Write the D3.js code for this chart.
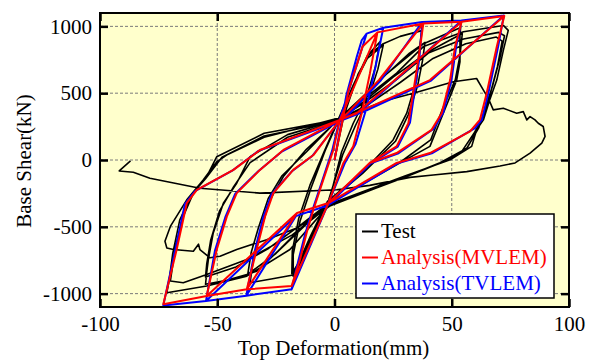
<!DOCTYPE html>
<html>
<head>
<meta charset="utf-8">
<script src="https://cdn.jsdelivr.net/npm/d3@7"></script>
<style>
  body { margin: 0; background: #fff; }
  svg { display: block; }
  text { font-family: "Liberation Serif", "Times New Roman", serif; }
</style>
</head>
<body>
<svg id="chart" width="598" height="363"></svg>
<script>
// axis ticks
const xTicks = [-100, -50, 0, 50, 100];
const yTicks = [-1000, -500, 0, 500, 1000];

// Test: [top deformation (mm), base shear (kN)]
const testData = [
  [0,0],[4,330],[10,640],[15,800],[19.4,885],
  [17.5,700],[13.7,474],[8,275],[3,60],[-2,-290],
  [-8,-520],[-13,-720],[-17.6,-870],
  [-17.6,-707],[-14.7,-459],[-10,-210],[-4,70],[1,270],
  [7,520],[14,760],[20.8,860],
  [18.5,680],[14.5,460],[9,260],[3.5,40],[-2.5,-300],
  [-9,-540],[-14,-730],[-18.2,-850],
  [-18,-680],[-15.3,-440],[-10.5,-190],[-4.5,60],[1,280],
  [8,560],[14,780],[20.8,870],[28,925],[37.2,968],
  [36,800],[35,598],[30.8,350],[25,150],[12,-90],[-3,-310],
  [-10,-560],[-17.6,-860],[-27,-890],[-36,-918],
  [-34.6,-745],[-31.8,-546],[-27.5,-298],[-21.8,-124],[-12,80],[1,290],
  [10,430],[22,640],[32,800],[38.6,880],
  [37.5,740],[35.5,560],[31.5,340],[26,140],[12,-100],[-3,-320],
  [-12,-470],[-24,-680],[-33,-830],[-37,-855],
  [-35.5,-690],[-32.5,-510],[-28.3,-290],[-22.5,-120],[-12,60],[1,295],
  [10,440],[22,640],[38,870],[53.8,992],
  [53.5,940],[53.5,734],[52.1,598],[46.4,350],[40.7,102],[26,-40],[-3,-330],
  [-12,-480],[-25,-700],[-37,-855],[-46,-900],[-55,-930],
  [-54.5,-844],[-53.8,-745],[-51.7,-546],[-47.4,-323],[-41.7,-174],[-36,25],[-20,190],[1,300],
  [12,430],[25,620],[40,810],[54.5,946],
  [53.5,780],[51.5,600],[46,380],[41,150],[27,-30],[-3,-330],
  [-14,-480],[-28,-660],[-42,-800],[-55,-875],
  [-54.5,-780],[-52.8,-600],[-49,-380],[-43,-200],[-36,-20],[-20,170],[1,290],
  [12,450],[26.5,650],[38,850],[55,960],[72,1007],
  [74.1,970],[72,820],[69.2,598],[66,440],[63.5,300],[60.6,226],[58.5,102],[49.3,2],[30,-120],[-2,-330],
  [-19,-670],[-37.4,-869],[-54.5,-943],[-71.5,-993],
  [-70.5,-900],[-69,-700],[-66,-450],[-61,-260],[-55,-140],[-48,20],[-30,180],[0,290],
  [12,420],[27,610],[40,800],[55,905],[70,955],
  [72.5,930],[70.5,760],[67.5,560],[64.5,400],[61.5,240],[56.5,90],[47,-10],[30,-130],[-2,-340],
  [-18,-560],[-37.4,-745],[-54.5,-856],[-64.5,-918],[-70,-906],
  [-68,-670],[-64.5,-422],[-60.2,-248],[-54.5,-124],[-50.2,25],[-30,200],[1,300],
  [13,400],[28,580],[42,760],[56,870],[69,920],
  [71.5,890],[69.5,700],[66.5,500],[63.5,330],[59.5,200],[54.5,70],[45,-20],[28,-140],[-2,-345],
  [-16.1,-509],[-28.9,-596],[-41.7,-670],[-48.8,-720],[-53.1,-732],[-57.4,-670],[-58,-630],[-60.2,-683],[-68.7,-670],[-71.5,-658],[-72.3,-608],
  [-70,-497],[-63,-298],[-56,-149],[-50.2,-13],[-46,37],[-30,170],[-10,260],[5,330],
  [22.3,447],[33.6,499],[50.7,586],[60.6,610],[63.5,523],[65.6,462],[67.7,375],[72,387],[77.7,350],[80.5,362],[82,300],[83.4,325],[85.5,300],[86.9,275],[89,251],[89.8,176],[88.4,127],[83.4,52],[77,-22],[70.6,-45],[56.4,-87],[42.1,-112],[32.2,-130],[15,-190],[0.9,-223],[-31.8,-248],[-57.4,-211],[-78.7,-136],[-85.8,-92],[-91.8,-82],[-87,-7]
];

// Analysis (MVLEM)
const mvlemData = [
  [0,0],[6,520],[12,850],[18.3,955],
  [15.1,648],[11.6,350],[8,102],[3.8,-22],[-2.6,-322],
  [-18.3,-943],
  [-14.7,-745],[-11.9,-546],[-9,-372],[-4.8,-149],[-0.5,75],[2.3,300],
  [18.3,955],[37.9,1022],
  [35.7,745],[31.5,275],[26.5,102],[15,-22],[-2.6,-322],
  [-18.3,-943],[-37.4,-968],
  [-33.2,-670],[-29.6,-422],[-26.1,-248],[-17.6,-74],[-9,37],[2.3,300],
  [6,360],[19,600],[37.9,1022],
  [35.7,745],[31.5,275],[26.5,102],[15,-22],[-2.6,-322],
  [-16,-397],[-37.4,-968],
  [-33.2,-670],[-29.6,-422],[-26.1,-248],[-17.6,-74],[-9,37],[2.3,300],
  [6,360],[19,600],[37.9,1022],[54.2,1035],
  [51.4,847],[49.3,598],[45.7,350],[41.4,226],[26.5,52],[15,-22],[-2.6,-322],
  [-16,-397],[-37.4,-968],[-54.5,-1018],
  [-50.2,-670],[-45.9,-422],[-41.7,-248],[-31.8,-74],[-21.8,75],[2.3,300],
  [9.5,350],[54.2,1035],
  [51.4,847],[49.3,598],[45.7,350],[41.4,226],[26.5,52],[15,-22],[-2.6,-322],
  [-16,-397],[-54.5,-1018],
  [-50.2,-670],[-45.9,-422],[-41.7,-248],[-31.8,-74],[-21.8,75],[2.3,300],
  [9.5,350],[54.2,1035],[72.4,1078],
  [69.2,847],[64.9,499],[62,300],[57.8,214],[40.7,52],[26.5,-22],[-2.6,-322],
  [-16,-397],[-54.5,-1018],[-73,-1080],
  [-67.3,-670],[-63,-323],[-58.7,-223],[-43.1,-74],[-31.8,75],[2.3,300],
  [12.3,375],[40.7,598],[72.4,1078],
  [69.2,847],[64.9,499],[62,300],[57.8,214],[40.7,52],[26.5,-22],[-2.6,-322]
];

// Analysis (TVLEM)
const tvlemData = [
  [0,0],[5,480],[9.5,772],[11.6,896],[13.7,946],[20.8,990],
  [17.5,700],[13.5,380],[9,120],[4.5,-20],[-3,-340],
  [-18.3,-968],
  [-15.5,-760],[-12.6,-560],[-9.6,-385],[-5.3,-160],[-1,70],[2,290],
  [13.7,946],[20.8,990],[37.4,1033],
  [36.2,760],[32.2,280],[27,100],[15.5,-25],[-3,-340],
  [-18.3,-968],[-37.6,-1015],
  [-34,-680],[-30.4,-430],[-26.8,-255],[-18,-82],[-9.5,30],[2,290],
  [6.5,350],[19.5,590],[37.4,1033],
  [36.2,760],[32.2,280],[27,100],[15.5,-25],[-3,-340],
  [-16.5,-420],[-37.6,-1015],
  [-34,-680],[-30.4,-430],[-26.8,-255],[-18,-82],[-9.5,30],[2,290],
  [6.5,350],[19.5,590],[37.4,1033],[54.2,1043],
  [51.9,850],[49.9,600],[46.4,355],[42.2,232],[27,48],[15.5,-25],[-3,-340],
  [-16.5,-420],[-37.6,-1015],[-54.8,-1055],
  [-51,-680],[-46.6,-430],[-42.4,-255],[-32.4,-82],[-22.3,65],[2,290],
  [10,345],[54.2,1043],
  [51.9,850],[49.9,600],[46.4,355],[42.2,232],[27,48],[15.5,-25],[-3,-340],
  [-16.5,-420],[-54.8,-1055],
  [-51,-680],[-46.6,-430],[-42.4,-255],[-32.4,-82],[-22.3,65],[2,290],
  [10,345],[54.2,1043],[72.2,1082],
  [69.8,850],[65.6,500],[62.8,300],[59.9,238],[41.5,50],[27,-25],[-3,-340],
  [-16.5,-420],[-54.8,-1055],[-73,-1088],
  [-68,-680],[-63.8,-330],[-59.5,-232],[-43.8,-82],[-32.4,68],[2,290],
  [12.8,365],[41.2,595],[72.2,1082],
  [69.8,850],[65.6,500],[62.8,300],[59.9,238],[41.5,50],[27,-25],[-3,-340]
];

const seriesNames = ["Test", "Analysis(MVLEM)", "Analysis(TVLEM)"];
const seriesColors = ["#000000", "#ff0000", "#0000ff"];

const svg = d3.select("#chart");
const plotLeft = 100, plotRight = 569, plotTop = 13, plotBottom = 307;
const fontSize = 21;
const serif = '"Liberation Serif", "Times New Roman", serif';

const x = d3.scaleLinear().domain([-100, 100]).range([plotLeft, plotRight]);
const y = d3.scaleLinear().domain([-1100, 1100]).range([plotBottom, plotTop]);

// plot background
svg.append("rect")
  .attr("x", plotLeft).attr("y", plotTop)
  .attr("width", plotRight - plotLeft).attr("height", plotBottom - plotTop)
  .attr("fill", "#ffffcc");

// dashed grid
const grid = svg.append("g")
  .attr("stroke", "#7a7a7a")
  .attr("stroke-width", 1)
  .attr("stroke-dasharray", "3,2");
grid.selectAll(".gx").data(xTicks.slice(1, -1)).enter().append("line")
  .attr("x1", d => x(d)).attr("x2", d => x(d))
  .attr("y1", plotTop).attr("y2", plotBottom);
grid.selectAll(".gy").data(yTicks).enter().append("line")
  .attr("x1", plotLeft).attr("x2", plotRight)
  .attr("y1", d => y(d)).attr("y2", d => y(d));

// curves
const line = d3.line().x(d => x(d[0])).y(d => y(d[1]));
const plot = svg.append("g");
plot.append("path").attr("d", line(testData))
  .attr("fill", "none").attr("stroke", seriesColors[0])
  .attr("stroke-width", 1.6).attr("stroke-linejoin", "round");
plot.append("path").attr("d", line(tvlemData))
  .attr("fill", "none").attr("stroke", seriesColors[2])
  .attr("stroke-width", 2).attr("stroke-linejoin", "round");
plot.append("path").attr("d", line(mvlemData))
  .attr("fill", "none").attr("stroke", seriesColors[1])
  .attr("stroke-width", 2).attr("stroke-linejoin", "round");

// axes (inward ticks on all sides), plain hyphen minus, no thousands comma
const fmt = d => String(d);
const xAxisB = d3.axisBottom(x).tickValues(xTicks).tickSizeInner(-8).tickSizeOuter(0).tickPadding(9).tickFormat(fmt);
const xAxisT = d3.axisTop(x).tickValues(xTicks).tickSizeInner(-8).tickSizeOuter(0).tickFormat("");
const yAxisL = d3.axisLeft(y).tickValues(yTicks).tickSizeInner(-8).tickSizeOuter(0).tickPadding(8).tickFormat(fmt);
const yAxisR = d3.axisRight(y).tickValues(yTicks).tickSizeInner(-8).tickSizeOuter(0).tickFormat("");

function styleAxis(g) {
  g.attr("font-family", serif).attr("font-size", fontSize);
  g.select(".domain").remove();
  g.selectAll(".tick line").attr("stroke", "#000").attr("stroke-width", 2.5);
  g.selectAll(".tick text")
    .attr("fill", "#000")
    .style("font-family", serif)
    .style("font-size", fontSize + "px");
}
svg.append("g").attr("transform", `translate(0,${plotBottom})`).call(xAxisB).call(styleAxis);
svg.append("g").attr("transform", `translate(0,${plotTop})`).call(xAxisT).call(styleAxis);
svg.append("g").attr("transform", `translate(${plotLeft},0)`).call(yAxisL).call(styleAxis);
svg.append("g").attr("transform", `translate(${plotRight},0)`).call(yAxisR).call(styleAxis);

// frame
svg.append("rect")
  .attr("x", plotLeft).attr("y", plotTop)
  .attr("width", plotRight - plotLeft).attr("height", plotBottom - plotTop)
  .attr("fill", "none").attr("stroke", "#000").attr("stroke-width", 2);

// axis titles
svg.append("text")
  .attr("x", (plotLeft + plotRight) / 2 - 1).attr("y", 355)
  .attr("text-anchor", "middle")
  .style("font-size", fontSize + "px")
  .text("Top Deformation(mm)");
svg.append("text")
  .attr("transform", "translate(31,161) rotate(-90)")
  .attr("text-anchor", "middle")
  .style("font-size", fontSize + "px")
  .text("Base Shear(kN)");

// legend
const legend = svg.append("g");
legend.append("rect")
  .attr("x", 356).attr("y", 214).attr("width", 198).attr("height", 84)
  .attr("fill", "#fff").attr("stroke", "#000").attr("stroke-width", 1.5);
seriesNames.forEach((name, i) => {
  const ly = 231.5 + i * 26;
  legend.append("line")
    .attr("x1", 362).attr("x2", 378).attr("y1", ly).attr("y2", ly)
    .attr("stroke", seriesColors[i]).attr("stroke-width", 2);
  legend.append("text")
    .attr("x", 381).attr("y", ly + 6.5)
    .attr("fill", seriesColors[i])
    .style("font-size", fontSize + "px")
    .text(name);
});
</script>
</body>
</html>
